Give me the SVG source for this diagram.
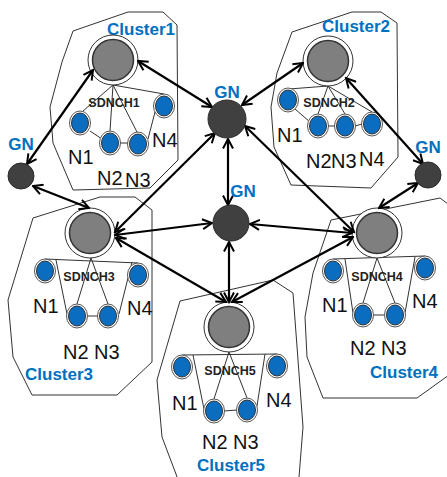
<svg xmlns="http://www.w3.org/2000/svg" width="447" height="477" viewBox="0 0 447 477">
<defs>
<style>
.poly{fill:none;stroke:#333;stroke-width:1}
.ring{fill:#fff;stroke:#333;stroke-width:1}
.hub{fill:#7f7f7f;stroke:#333;stroke-width:1.5}
.sring{fill:#fff;stroke:#555;stroke-width:1}
.sn{fill:#0b6dc0;stroke:#333;stroke-width:1}
.gn{fill:#404040;stroke:#2a2a2a;stroke-width:1}
.ln{stroke:#333;stroke-width:1;fill:none}
.arr{stroke:#000;stroke-width:2.2;fill:none;marker-start:url(#ah);marker-end:url(#ah)}
.cl{font-family:"Liberation Sans",Arial,sans-serif;font-weight:bold;font-size:17px;fill:#0070c0}
.gnl{font-family:"Liberation Sans",Arial,sans-serif;font-weight:bold;font-size:17px;fill:#0070c0;text-anchor:middle}
.sd{font-family:"Liberation Sans",Arial,sans-serif;font-weight:bold;font-size:12.5px;fill:#222;text-anchor:middle}
.nl{font-family:"Liberation Sans",Arial,sans-serif;font-size:20px;fill:#111}
</style>
<marker id="ah" viewBox="0 0 12 12" markerWidth="12" markerHeight="12" refX="10.5" refY="6" orient="auto-start-reverse" markerUnits="userSpaceOnUse">
<path d="M1,1 L10.5,6 L1,11" fill="none" stroke="#000" stroke-width="2"/>
</marker>
</defs>
<rect width="447" height="477" fill="#fff"/>

<!-- Cluster outlines -->
<g id="cluster1"><polygon class="poly" points="73,31 128,12 163,12 177,25 178,160 150,188 73,190 53,143 50,107 62,62"/><text class="cl" x="107" y="35">Cluster1</text></g>
<g id="cluster2"><polygon class="poly" points="292,32 352,12 381,12 397,23 398,157 371,188 291,185 274,147 271,107 277,73"/><text class="cl" x="322" y="32">Cluster2</text></g>
<g id="cluster3"><polygon class="poly" points="33,218 100,197 135,197 152,210 152,362 117,395 32,395 13,357 8,300"/><text class="cl" x="25" y="380">Cluster3</text></g>
<g id="cluster4"><polygon class="poly" points="331,220 440,198 456,210 456,370 417,398 323,398 307,357 305,317 313,273"/><text class="cl" x="370" y="378">Cluster4</text></g>
<g id="cluster5"><polygon class="poly" points="180,301 273,280 293,293 303,427 298,490 182,490 162,437 157,380"/><text class="cl" x="197" y="471">Cluster5</text></g>

<!-- Intra-cluster links -->
<g id="cluster-links">
<path class="ln" d="M113,85 L83,111 M113,85 L110,131 M113,85 L137,132 M113,85 L164,94 M90,131 L102,139 M120,143 L128,143 M155,112 L148,139"/>
<path class="ln" d="M328,86 L289,89 M328,86 L318,114 M328,86 L345,114 M328,86 L372,112 M295,109 L310,122 M328,126 L335,126 M355,126 L362,124"/>
<path class="ln" d="M45,259 L138,263 M91,258 L77,304 M91,258 L108,304 M56,260 L67,314 M132,262 L119,314 M87,316 L98,316"/>
<path class="ln" d="M333,259 L425,256 M377,258 L363,303 M377,258 L395,303 M345,259 L353,313 M415,257 L405,313 M373,315 L385,315"/>
<path class="ln" d="M182,355 L277,354 M229,352 L214,399 M229,352 L247,398 M193,355 L204,409 M265,354 L257,406 M224,411 L237,410"/>
</g>

<!-- Sensor nodes -->
<g id="c1-n1"><ellipse class="sring" cx="80" cy="123" rx="10.5" ry="12"/><ellipse class="sn" cx="80" cy="123" rx="8.5" ry="10"/></g>
<g id="c1-n2"><ellipse class="sring" cx="110" cy="143" rx="10.5" ry="12"/><ellipse class="sn" cx="110" cy="143" rx="8.5" ry="10"/></g>
<g id="c1-n3"><ellipse class="sring" cx="138" cy="144" rx="10.5" ry="12"/><ellipse class="sn" cx="138" cy="144" rx="8.5" ry="10"/></g>
<g id="c1-n4"><ellipse class="sring" cx="164" cy="106" rx="10.5" ry="12"/><ellipse class="sn" cx="164" cy="106" rx="8.5" ry="10"/></g>

<g id="c2-n1"><ellipse class="sring" cx="288" cy="100" rx="10.5" ry="12"/><ellipse class="sn" cx="288" cy="100" rx="8.5" ry="10"/></g>
<g id="c2-n2"><ellipse class="sring" cx="318" cy="126" rx="10.5" ry="12"/><ellipse class="sn" cx="318" cy="126" rx="8.5" ry="10"/></g>
<g id="c2-n3"><ellipse class="sring" cx="345" cy="126" rx="10.5" ry="12"/><ellipse class="sn" cx="345" cy="126" rx="8.5" ry="10"/></g>
<g id="c2-n4"><ellipse class="sring" cx="372" cy="124" rx="10.5" ry="12"/><ellipse class="sn" cx="372" cy="124" rx="8.5" ry="10"/></g>

<g id="c3-n1"><ellipse class="sring" cx="45" cy="271" rx="10.5" ry="12"/><ellipse class="sn" cx="45" cy="271" rx="8.5" ry="10"/></g>
<g id="c3-n2"><ellipse class="sring" cx="77" cy="316" rx="10.5" ry="12"/><ellipse class="sn" cx="77" cy="316" rx="8.5" ry="10"/></g>
<g id="c3-n3"><ellipse class="sring" cx="108" cy="316" rx="10.5" ry="12"/><ellipse class="sn" cx="108" cy="316" rx="8.5" ry="10"/></g>
<g id="c3-n4"><ellipse class="sring" cx="138" cy="275" rx="10.5" ry="12"/><ellipse class="sn" cx="138" cy="275" rx="8.5" ry="10"/></g>

<g id="c4-n1"><ellipse class="sring" cx="333" cy="271" rx="10.5" ry="12"/><ellipse class="sn" cx="333" cy="271" rx="8.5" ry="10"/></g>
<g id="c4-n2"><ellipse class="sring" cx="363" cy="315" rx="10.5" ry="12"/><ellipse class="sn" cx="363" cy="315" rx="8.5" ry="10"/></g>
<g id="c4-n3"><ellipse class="sring" cx="395" cy="315" rx="10.5" ry="12"/><ellipse class="sn" cx="395" cy="315" rx="8.5" ry="10"/></g>
<g id="c4-n4"><ellipse class="sring" cx="425" cy="268" rx="10.5" ry="12"/><ellipse class="sn" cx="425" cy="268" rx="8.5" ry="10"/></g>

<g id="c5-n1"><ellipse class="sring" cx="182" cy="367" rx="10.5" ry="12"/><ellipse class="sn" cx="182" cy="367" rx="8.5" ry="10"/></g>
<g id="c5-n2"><ellipse class="sring" cx="214" cy="411" rx="10.5" ry="12"/><ellipse class="sn" cx="214" cy="411" rx="8.5" ry="10"/></g>
<g id="c5-n3"><ellipse class="sring" cx="247" cy="410" rx="10.5" ry="12"/><ellipse class="sn" cx="247" cy="410" rx="8.5" ry="10"/></g>
<g id="c5-n4"><ellipse class="sring" cx="277" cy="366" rx="10.5" ry="12"/><ellipse class="sn" cx="277" cy="366" rx="8.5" ry="10"/></g>

<!-- Sensor labels -->
<g id="node-labels">
<text class="nl" x="68" y="164">N1</text><text class="nl" x="97" y="185">N2</text><text class="nl" x="125" y="187">N3</text><text class="nl" x="152" y="147">N4</text>
<text class="nl" x="277" y="142">N1</text><text class="nl" x="306" y="168">N2</text><text class="nl" x="331" y="168">N3</text><text class="nl" x="359" y="166">N4</text>
<text class="nl" x="33" y="313">N1</text><text class="nl" x="127" y="315">N4</text><text class="nl" x="63" y="359">N2 N3</text>
<text class="nl" x="322" y="312">N1</text><text class="nl" x="412" y="308">N4</text><text class="nl" x="350" y="355">N2 N3</text>
<text class="nl" x="172" y="410">N1</text><text class="nl" x="266" y="407">N4</text><text class="nl" x="202" y="449">N2 N3</text>
</g>

<!-- SDNCH heads -->
<g id="sdnch1"><circle class="ring" cx="113" cy="60" r="25"/><circle class="hub" cx="113" cy="60" r="20.5"/><text class="sd" x="114" y="107">SDNCH1</text></g>
<g id="sdnch2"><circle class="ring" cx="328" cy="61" r="25"/><circle class="hub" cx="328" cy="61" r="20.5"/><text class="sd" x="329" y="107">SDNCH2</text></g>
<g id="sdnch3"><circle class="ring" cx="90" cy="233" r="25"/><circle class="hub" cx="90" cy="233" r="20.5"/><text class="sd" x="89" y="281">SDNCH3</text></g>
<g id="sdnch4"><circle class="ring" cx="377" cy="233" r="25"/><circle class="hub" cx="377" cy="233" r="20.5"/><text class="sd" x="377" y="281">SDNCH4</text></g>
<g id="sdnch5"><circle class="ring" cx="229" cy="327" r="25"/><circle class="hub" cx="229" cy="327" r="20.5"/><text class="sd" x="230" y="375">SDNCH5</text></g>

<!-- Connectors -->
<g id="connectors">
<line class="arr" x1="138" y1="61" x2="212" y2="107"/>
<line class="arr" x1="242" y1="105" x2="303" y2="63"/>
<line class="arr" x1="215" y1="133" x2="115" y2="232"/>
<line class="arr" x1="245" y1="126" x2="354" y2="232"/>
<line class="arr" x1="228" y1="139" x2="228" y2="205"/>
<line class="arr" x1="27" y1="164" x2="93" y2="70"/>
<line class="arr" x1="33" y1="186" x2="89" y2="208"/>
<line class="arr" x1="423" y1="164" x2="346" y2="78"/>
<line class="arr" x1="418" y1="183" x2="379" y2="208"/>
<line class="arr" x1="115" y1="235" x2="212" y2="223"/>
<line class="arr" x1="250" y1="224" x2="352" y2="233"/>
<line class="arr" x1="229" y1="242" x2="229" y2="302"/>
<line class="arr" x1="116" y1="238" x2="226" y2="302"/>
<line class="arr" x1="353" y1="237" x2="232" y2="302"/>
</g>

<!-- Gateway nodes -->
<g id="gn-top"><circle class="gn" cx="227" cy="119" r="19"/><text class="gnl" x="227" y="98">GN</text></g>
<g id="gn-center"><circle class="gn" cx="231" cy="223" r="18"/><text class="gnl" x="243" y="197">GN</text></g>
<g id="gn-left"><circle class="gn" cx="21" cy="176" r="13"/><text class="gnl" x="21" y="150">GN</text></g>
<g id="gn-right"><circle class="gn" cx="428" cy="175" r="13"/><text class="gnl" x="428" y="153">GN</text></g>
</svg>
